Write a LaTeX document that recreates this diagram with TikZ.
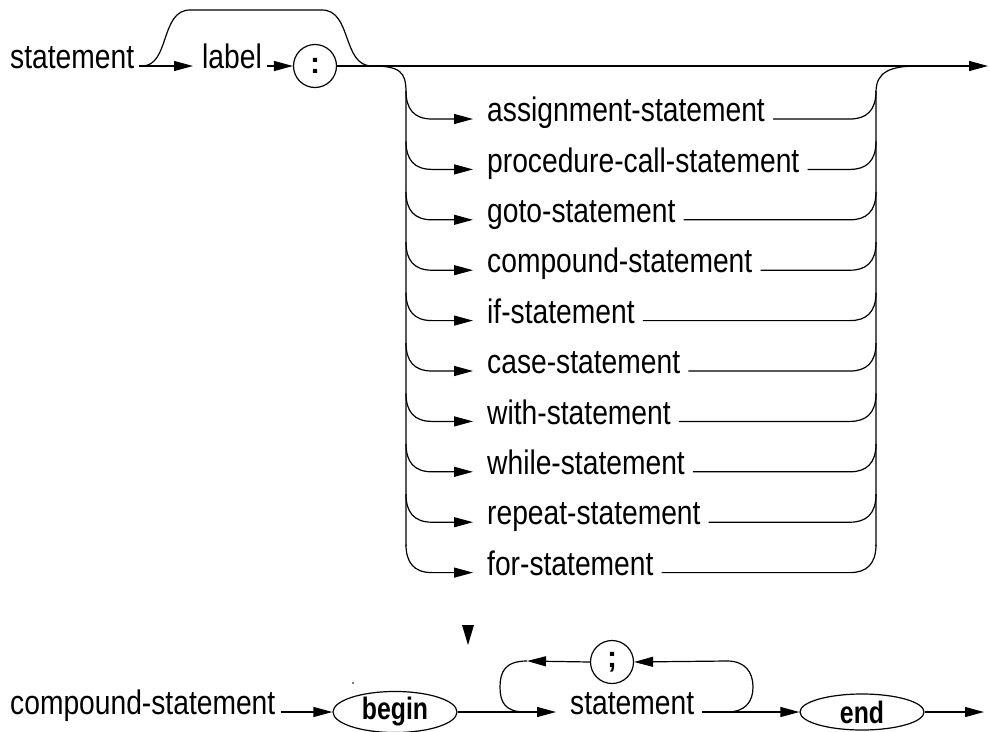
\documentclass[tikz,border=0pt]{standalone}
\usepackage{fontspec}
\setmainfont{Liberation Sans}
\newfontfamily\lfont{Liberation Sans}[FakeStretch=0.83]
\newfontfamily\kfont{Liberation Sans}[FakeStretch=0.8]
\usetikzlibrary{arrows.meta,shapes.geometric}
\tikzset{
 ln/.style={line width=1.2pt},
 arr/.style={ln,-{Triangle[length=19pt,width=10pt]}},
 lab/.style={inner sep=0pt,font=\lfont\fontsize{34}{34}\selectfont},
 kw/.style={draw,ln,ellipse,minimum width=124pt,minimum height=36pt,inner sep=0pt,font=\kfont\bfseries\fontsize{31}{31}\selectfont},
 sym/.style={draw,ln,circle,minimum size=43pt,inner sep=0pt,font=\bfseries\fontsize{30}{30}\selectfont},
}
\begin{document}
\begin{tikzpicture}[x=1pt,y=-1pt]
\useasboundingbox (0,0) rectangle (990,731);
% top row
\node[lab,anchor=mid west] (st) at (10,66) {statement};
\node[lab,anchor=mid west] (lb) at (202,66) {label};
\node[sym] (col) at (315,66) {:};
\coordinate (topend) at (988,66);
\draw[arr] ([xshift=5pt]st.mid east) -- ([xshift=-9pt]lb.mid west);
\draw[arr] ([xshift=5pt]lb.mid east) -- (col.west);
\draw[arr] (col.east) -- (topend);
\draw[ln] (142,66) .. controls (170,66) and (160,10) .. (190,10) -- (322,10) .. controls (352,10) and (342,66) .. (372,66);
% alternatives
\draw[ln] (372,66) .. controls (400,66) and (406,72) .. (406,92) -- (406,546);
\draw[ln] (876,546) -- (876,92) .. controls (876,72) and (890,66) .. (918,66);
\foreach \i/\t/\n in {0/assignment-statement/b0, 1/procedure-call-statement/b1, 2/goto-statement/b2, 3/compound-statement/b3, 4/if-statement/b4, 5/case-statement/b5, 6/with-statement/b6, 7/while-statement/b7, 8/repeat-statement/b8, 9/for-statement/b9}{
 \pgfmathsetmacro\yy{119+50.4*\i}
 \node[lab,anchor=mid west] (\n) at (487,\yy) {\t};
 \draw[arr] (406,\yy-28) .. controls (406,\yy-10) and (414,\yy) .. (432,\yy) -- ([xshift=-14pt]\n.mid west);
 \draw[ln] ([xshift=8pt]\n.mid east) -- (850,\yy) .. controls (866,\yy) and (876,\yy-8) .. (876,\yy-28);
}
% bottom row
\node[lab,anchor=mid west] (cs) at (10,712) {compound-statement};
\node[kw] (bg) at (395,712) {begin};
\node[lab,anchor=mid west] (st2) at (570,712) {statement};
\node[sym] (semi) at (612,662) {;};
\node[kw] (en) at (862,712) {end};
\coordinate (lt) at (527,661);
\coordinate (rt) at (727,661);
\coordinate (lbm) at (525,712);
\coordinate (rbm) at (727,712);
\coordinate (botend) at (984,712);
\draw[arr] ([xshift=5pt]cs.mid east) -- (bg.west);
\draw[arr] (bg.east) -- ([xshift=-14pt]st2.mid west);
\draw[ln] (lt) .. controls (505,661) and (500,672) .. (500,687) .. controls (500,702) and (505,712) .. (lbm);
\draw[arr] (semi.west) -- (lt);
\draw[arr] (rt) -- (semi.east);
\draw[ln] (rbm) .. controls (745,712) and (753,702) .. (753,687) .. controls (753,672) and (745,661) .. (rt);
\draw[arr] ([xshift=8pt]st2.mid east) -- (en.west);
\draw[arr] (en.east) -- (botend);
% stray marks
\fill (462,625) -- (474,625) -- (468,645) -- cycle;
\fill (353,683) circle (0.8);
\end{tikzpicture}
\end{document}
